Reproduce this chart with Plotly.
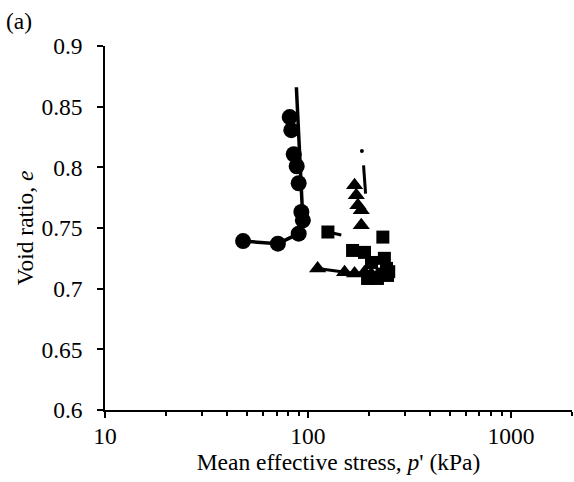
import plotly.graph_objects as go

# Circle series (data points)
circ_p = [81.3, 82.8, 85.1, 88.0, 90.0, 92.8, 94.4, 90.0, 71.1, 47.9]
circ_e = [0.8414, 0.8306, 0.8108, 0.8009, 0.7869, 0.7632, 0.7563, 0.7453, 0.7371, 0.7392]
# Circle series path line
circ_line_p = [87.7, 92.8, 94.4, 90.0, 71.1, 47.9]
circ_line_e = [0.866, 0.773, 0.7563, 0.7453, 0.7371, 0.7392]

# Triangle series
tri_p = [169.7, 173.0, 176.2, 183.1, 183.1, 111.6, 151.5, 169.7, 190.0, 205.0, 215.0]
tri_e = [0.7852, 0.777, 0.7687, 0.7646, 0.7522, 0.7167, 0.7136, 0.7126, 0.7136, 0.712, 0.709]
tri_line_p = [111.6, 151.5, 169.7, 190.0, 205.0]
tri_line_e = [0.7167, 0.7136, 0.7126, 0.7136, 0.712]
tri_dot_p = [184.4]
tri_dot_e = [0.8135]
tri_seg_p = [187.9, 192.3]
tri_seg_e = [0.8017, 0.7784]

# Square series
sq_p = [125.4, 233.9, 165.9, 190.0, 205.6, 238.0, 243.8, 246.6, 220.0, 196.7, 232.0, 250.0]
sq_e = [0.7467, 0.7425, 0.7315, 0.7299, 0.7216, 0.725, 0.7167, 0.7109, 0.7084, 0.7084, 0.712, 0.714]
sq_line_p = [125.4, 146.0]
sq_line_e = [0.7467, 0.7443]

x_tickvals = [10, 100, 1000]
y_tickvals = [0.6, 0.65, 0.7, 0.75, 0.8, 0.85, 0.9]
y_ticktext = ["0.6", "0.65", "0.7", "0.75", "0.8", "0.85", "0.9"]

FONT = "Liberation Serif"
FS = 23.5
fig = go.Figure()

fig.add_trace(go.Scatter(x=circ_line_p, y=circ_line_e, mode="lines",
                         line=dict(color="black", width=3.5), showlegend=False))
fig.add_trace(go.Scatter(x=circ_p, y=circ_e, mode="markers",
                         marker=dict(symbol="circle", size=16, color="black"), showlegend=False))
fig.add_trace(go.Scatter(x=tri_line_p, y=tri_line_e, mode="lines",
                         line=dict(color="black", width=3), showlegend=False))
fig.add_trace(go.Scatter(x=tri_seg_p, y=tri_seg_e, mode="lines",
                         line=dict(color="black", width=3), showlegend=False))
fig.add_trace(go.Scatter(x=tri_dot_p, y=tri_dot_e, mode="markers",
                         marker=dict(symbol="circle", size=4, color="black"), showlegend=False))
fig.add_trace(go.Scatter(x=tri_p, y=tri_e, mode="markers",
                         marker=dict(symbol="triangle-up", size=15, color="black"), showlegend=False))
fig.add_trace(go.Scatter(x=sq_line_p, y=sq_line_e, mode="lines",
                         line=dict(color="black", width=3), showlegend=False))
fig.add_trace(go.Scatter(x=sq_p, y=sq_e, mode="markers",
                         marker=dict(symbol="square", size=13, color="black"), showlegend=False))

fig.update_layout(
    width=574, height=482,
    margin=dict(l=105, r=2, t=46, b=72),
    paper_bgcolor="white", plot_bgcolor="white",
    font=dict(family=FONT, size=FS, color="black"),
    showlegend=False,
    xaxis=dict(type="log", range=[1, 3.30103],
               tickvals=x_tickvals, ticktext=[str(v) for v in x_tickvals],
               ticks="outside", ticklen=6, tickwidth=1.5, tickcolor="black",
               ticklabelstandoff=-2,
               minor=dict(ticks="outside", ticklen=4, tickwidth=1.5, tickcolor="black",
                          tickvals=[20, 30, 40, 50, 60, 70, 80, 90,
                                    200, 300, 400, 500, 600, 700, 800, 900, 2000]),
               showline=True, linecolor="black", linewidth=1.5,
               showgrid=False, zeroline=False,
               tickfont=dict(family=FONT, size=FS),
               title=dict(text="Mean effective stress, <i>p</i>' (kPa)",
                          font=dict(family=FONT, size=FS), standoff=4)),
    yaxis=dict(range=[0.6, 0.9], tickvals=y_tickvals, ticktext=y_ticktext,
               ticks="outside", ticklen=6, tickwidth=1.5, tickcolor="black",
               ticklabelstandoff=10,
               showline=True, linecolor="black", linewidth=1.5,
               showgrid=False, zeroline=False,
               tickfont=dict(family=FONT, size=FS),
               title=dict(text="Void ratio, <i>e</i>",
                          font=dict(family=FONT, size=FS), standoff=1)),
    annotations=[dict(text="(a)", xref="paper", yref="paper", x=-0.216, y=1.11,
                      showarrow=False, font=dict(family=FONT, size=FS),
                      xanchor="left", yanchor="top")],
)

fig.write_html("out.html")
